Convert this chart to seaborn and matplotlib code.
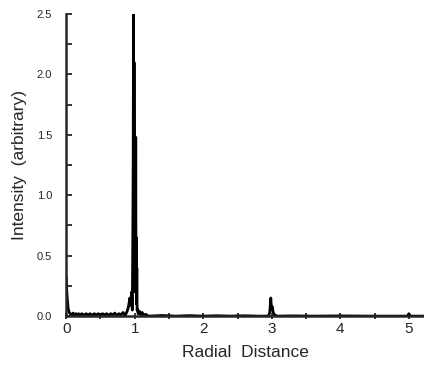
import matplotlib
matplotlib.use("Agg")
import matplotlib.pyplot as plt
import seaborn as sns
import pandas as pd
from matplotlib.ticker import MultipleLocator

# radial distance and intensity
radial = [0.00, 0.01, 0.02, 0.03, 0.045, 0.06, 0.08, 0.10, 0.12, 0.14, 0.16, 0.18, 0.20, 0.23,
          0.26, 0.29, 0.32, 0.35, 0.38, 0.41, 0.44, 0.47, 0.50, 0.53, 0.56, 0.59, 0.62,
          0.65, 0.68, 0.71, 0.74, 0.77, 0.80, 0.83, 0.86, 0.89, 0.91, 0.93, 0.945,
          0.955, 0.965, 0.972, 0.978, 0.983, 0.987, 0.991, 0.995, 0.999, 1.003, 1.007,
          1.011, 1.015, 1.019, 1.023, 1.027, 1.031, 1.035, 1.04, 1.05, 1.07, 1.09,
          1.11, 1.13, 1.16, 1.2, 1.4, 1.6, 1.8, 2.0, 2.2, 2.4, 2.6, 2.8, 2.95, 2.97,
          2.985, 2.995, 3.005, 3.02, 3.04, 3.08, 3.3, 3.6, 4.0, 4.4, 4.8, 4.98, 5.0,
          5.02, 5.22]
intensity = [0.33, 0.20, 0.12, 0.06, 0.03, 0.02, 0.005, 0.025, 0.01, 0.02, 0.005, 0.02,
             0.01, 0.02, 0.005, 0.02, 0.01, 0.02, 0.005, 0.02, 0.01, 0.02, 0.005, 0.02,
             0.01, 0.02, 0.005, 0.02, 0.01, 0.025, 0.005, 0.02, 0.01, 0.03, 0.005, 0.04,
             0.08, 0.15, 0.09, 0.20, 0.05, 0.6, 1.3, 2.5, 0.4, 2.1, 0.3, 1.2, 0.2, 0.9,
             0.3, 1.48, 0.2, 0.65, 0.1, 0.4, 0.05, 0.06, 0.02, 0.04, 0.01, 0.03, 0.005,
             0.015, 0.0, 0.005, 0.0, 0.004, 0.0, 0.003, 0.0, 0.003, 0.0, 0.0, 0.03, 0.15,
             0.06, 0.08, 0.03, 0.01, 0.0, 0.002, 0.0, 0.002, 0.0, 0.0, 0.0, 0.02, 0.0, 0.0]
ytick_values = [0, 0.5, 1.0, 1.5, 2.0, 2.5]
ytick_labels = ["0.0", "0.5", "1.0", "1.5", "2.0", "2.5"]

df = pd.DataFrame({"radial": radial, "intensity": intensity})

sns.set_theme(style="ticks")
plt.rcParams["font.family"] = ["Liberation Sans", "DejaVu Sans"]

fig = plt.figure(figsize=(4.24, 3.68), dpi=100)
ax = fig.add_axes([0.156, 0.141, 0.844, 0.821])
sns.lineplot(data=df, x="radial", y="intensity", ax=ax, color="black", linewidth=2,
             sort=False, estimator=None)

ax.set_xlim(0, 5.22)
ax.set_ylim(0, 2.5)
ax.xaxis.set_major_locator(MultipleLocator(1))
ax.xaxis.set_minor_locator(MultipleLocator(0.5))
ax.yaxis.set_minor_locator(MultipleLocator(0.25))
ax.set_yticks(ytick_values)
ax.set_yticklabels(ytick_labels)
ax.tick_params(axis="y", which="both", direction="in", length=4, width=1.3, labelsize=8, pad=10)
ax.tick_params(axis="x", which="both", direction="inout", length=5, width=1.3, labelsize=11, pad=2)
for side in ["top", "right"]:
    ax.spines[side].set_visible(False)
for side in ["left", "bottom"]:
    ax.spines[side].set_linewidth(1.8)

ax.set_xlabel("Radial  Distance", fontsize=12.5, labelpad=6)
ax.set_ylabel("Intensity  (arbitrary)", fontsize=12.5, labelpad=7)

fig.savefig("out.png", dpi=100)
